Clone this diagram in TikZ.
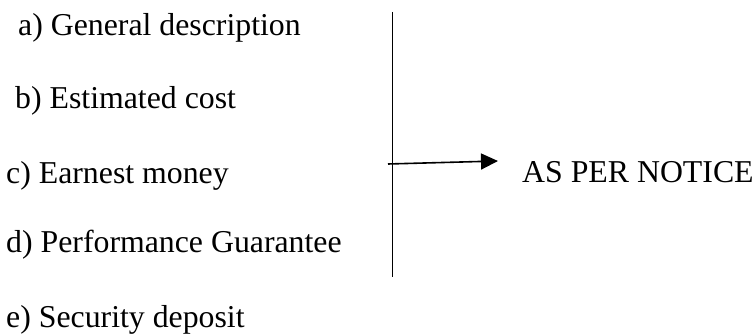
\documentclass[tikz,border=0pt]{standalone}
\usepackage{fontspec}
\setmainfont{Liberation Serif}
\usetikzlibrary{arrows.meta}
\begin{document}
\begin{tikzpicture}[x=1pt,y=-1pt,
  item/.style={anchor=base west,inner sep=0pt,font=\fontsize{31.8}{36}\selectfont},
  ln/.style={line width=1.6pt}]
\useasboundingbox (0,0) rectangle (755,336);
\node[item] (a) at (18,36) {a) General description};
\node[item] (b) at (15,109) {b) Estimated cost};
\node[item] (c) at (6,184) {c) Earnest money};
\node[item] (d) at (6,253) {d) Performance Guarantee};
\node[item] (e) at (6,328) {e) Security deposit};
\node[item] (n) at (522,183) {AS PER NOTICE};
\coordinate (top) at (392.5,12);
\coordinate (bot) at (392.5,277);
\coordinate (s) at (388,164);
\coordinate (t) at (498,161);
\draw[ln] (top) -- (bot);
\draw[ln,-{Triangle[length=17pt,width=16pt]}] (s) -- (t);
\end{tikzpicture}
\end{document}
